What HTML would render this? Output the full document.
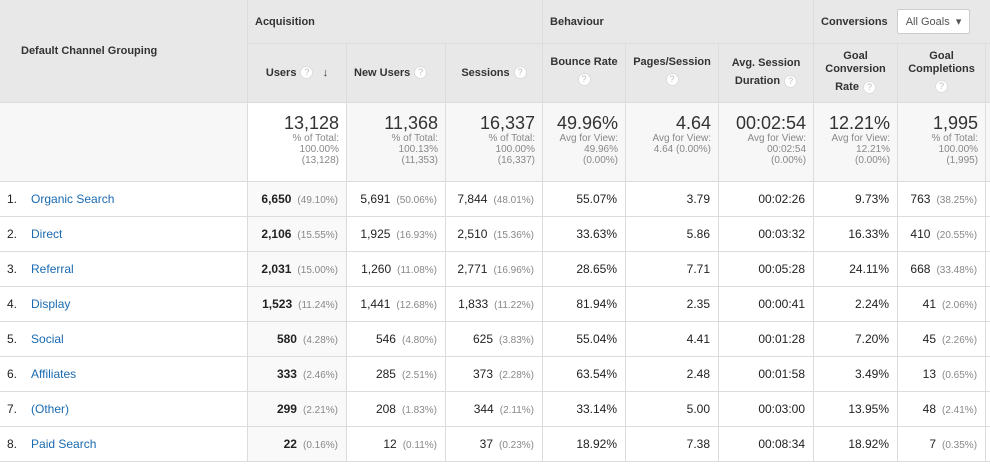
<!DOCTYPE html>
<html><head><meta charset="utf-8"><style>
*{box-sizing:border-box}
body{margin:0;width:990px;height:464px;overflow:hidden;background:#fff;font-family:"Liberation Sans",Arial,sans-serif;color:#222}
table{border-collapse:collapse;table-layout:fixed;width:991px;margin-left:-1px;margin-top:-1px}
td,th{border:1px solid #dcdcdc;padding:0;font-size:12px}
th{background:#e8e8e8;font-size:11px;font-weight:bold;color:#333}
.g{text-align:left;padding-left:7px;height:44px;vertical-align:middle}
.sub{height:59px;text-align:center;vertical-align:middle;line-height:17px}
.q{display:inline-block;width:13px;height:13px;border-radius:50%;background:#fff;border:1px solid #ddd;color:#bbb;font-size:9px;line-height:11px;text-align:center;font-weight:normal;vertical-align:middle;margin-left:4px}
.tot td{height:79px;background:#f7f7f7;text-align:right;vertical-align:top;padding:10px 7px 0 0}
.tot td.u{background:#fff}
.big{font-size:18px;color:#333;line-height:20px}
.sm{font-size:10px;color:#888;line-height:11px}
.r td{height:35px;text-align:right;padding-right:8px;vertical-align:middle}
.r td.n{text-align:left;padding-left:7px}
.r td.u{background:#f9f9f9}
.r a{color:#1a6ab0;text-decoration:none;margin-left:14px}
.p{color:#888;font-size:10px;margin-left:6px}
b{font-weight:bold}
.dd{display:inline-block;border:1px solid #ccc;background:#fff;border-radius:2px;font-weight:normal;padding:5px 8px;margin-left:6px;color:#555;font-size:11px}
</style></head><body>
<table>
<colgroup><col style="width:248px"><col style="width:99px"><col style="width:99px"><col style="width:97px"><col style="width:83px"><col style="width:93px"><col style="width:95px"><col style="width:84px"><col style="width:88px"><col style="width:5px"></colgroup>
<tr><th rowspan="2" class="g" style="padding-left:21px;vertical-align:middle;height:103px">Default Channel Grouping</th>
<th colspan="3" class="g">Acquisition</th><th colspan="3" class="g">Behaviour</th><th colspan="3" class="g">Conversions <span class="dd">All Goals &nbsp;▾</span></th></tr>
<tr><th class="sub">Users<span class="q">?</span> &nbsp;&nbsp;↓</th><th class="sub" style="text-align:left;padding-left:7px">New Users<span class="q">?</span></th><th class="sub">Sessions<span class="q">?</span></th>
<th class="sub" style="vertical-align:top;padding-top:10px">Bounce Rate<br><span class="q" style="margin:0">?</span></th>
<th class="sub" style="vertical-align:top;padding-top:10px">Pages/Session<br><span class="q" style="margin:0">?</span></th>
<th class="sub" style="vertical-align:top;padding-top:10px;line-height:18px">Avg. Session<br>Duration<span class="q">?</span></th>
<th class="sub" style="vertical-align:top;padding-top:6px;line-height:13px">Goal<br>Conversion<br><span style="line-height:22px">Rate</span><span class="q">?</span></th>
<th class="sub" style="vertical-align:top;padding-top:6px;line-height:13px">Goal<br>Completions<br><span class="q" style="margin:4px 0 0">?</span></th><th class="sub"></th></tr>
<tr class="tot"><td></td>
<td class="u"><div class="big">13,128</div><div class="sm">% of Total:<br>100.00%<br>(13,128)</div></td>
<td><div class="big">11,368</div><div class="sm">% of Total:<br>100.13%<br>(11,353)</div></td>
<td><div class="big">16,337</div><div class="sm">% of Total:<br>100.00%<br>(16,337)</div></td>
<td><div class="big">49.96%</div><div class="sm">Avg for View:<br>49.96%<br>(0.00%)</div></td>
<td><div class="big">4.64</div><div class="sm">Avg for View:<br>4.64 (0.00%)</div></td>
<td><div class="big">00:02:54</div><div class="sm">Avg for View:<br>00:02:54<br>(0.00%)</div></td>
<td><div class="big">12.21%</div><div class="sm">Avg for View:<br>12.21%<br>(0.00%)</div></td>
<td><div class="big">1,995</div><div class="sm">% of Total:<br>100.00%<br>(1,995)</div></td><td></td></tr>
<tr class="r"><td class="n">1.<a>Organic Search</a></td><td class="u"><b>6,650</b><span class="p">(49.10%)</span></td><td>5,691<span class="p">(50.06%)</span></td><td>7,844<span class="p">(48.01%)</span></td><td>55.07%</td><td>3.79</td><td>00:02:26</td><td>9.73%</td><td>763<span class="p">(38.25%)</span></td><td></td></tr>
<tr class="r"><td class="n">2.<a>Direct</a></td><td class="u"><b>2,106</b><span class="p">(15.55%)</span></td><td>1,925<span class="p">(16.93%)</span></td><td>2,510<span class="p">(15.36%)</span></td><td>33.63%</td><td>5.86</td><td>00:03:32</td><td>16.33%</td><td>410<span class="p">(20.55%)</span></td><td></td></tr>
<tr class="r"><td class="n">3.<a>Referral</a></td><td class="u"><b>2,031</b><span class="p">(15.00%)</span></td><td>1,260<span class="p">(11.08%)</span></td><td>2,771<span class="p">(16.96%)</span></td><td>28.65%</td><td>7.71</td><td>00:05:28</td><td>24.11%</td><td>668<span class="p">(33.48%)</span></td><td></td></tr>
<tr class="r"><td class="n">4.<a>Display</a></td><td class="u"><b>1,523</b><span class="p">(11.24%)</span></td><td>1,441<span class="p">(12.68%)</span></td><td>1,833<span class="p">(11.22%)</span></td><td>81.94%</td><td>2.35</td><td>00:00:41</td><td>2.24%</td><td>41<span class="p">(2.06%)</span></td><td></td></tr>
<tr class="r"><td class="n">5.<a>Social</a></td><td class="u"><b>580</b><span class="p">(4.28%)</span></td><td>546<span class="p">(4.80%)</span></td><td>625<span class="p">(3.83%)</span></td><td>55.04%</td><td>4.41</td><td>00:01:28</td><td>7.20%</td><td>45<span class="p">(2.26%)</span></td><td></td></tr>
<tr class="r"><td class="n">6.<a>Affiliates</a></td><td class="u"><b>333</b><span class="p">(2.46%)</span></td><td>285<span class="p">(2.51%)</span></td><td>373<span class="p">(2.28%)</span></td><td>63.54%</td><td>2.48</td><td>00:01:58</td><td>3.49%</td><td>13<span class="p">(0.65%)</span></td><td></td></tr>
<tr class="r"><td class="n">7.<a>(Other)</a></td><td class="u"><b>299</b><span class="p">(2.21%)</span></td><td>208<span class="p">(1.83%)</span></td><td>344<span class="p">(2.11%)</span></td><td>33.14%</td><td>5.00</td><td>00:03:00</td><td>13.95%</td><td>48<span class="p">(2.41%)</span></td><td></td></tr>
<tr class="r"><td class="n">8.<a>Paid Search</a></td><td class="u"><b>22</b><span class="p">(0.16%)</span></td><td>12<span class="p">(0.11%)</span></td><td>37<span class="p">(0.23%)</span></td><td>18.92%</td><td>7.38</td><td>00:08:34</td><td>18.92%</td><td>7<span class="p">(0.35%)</span></td><td></td></tr>
</table>
</body></html>
